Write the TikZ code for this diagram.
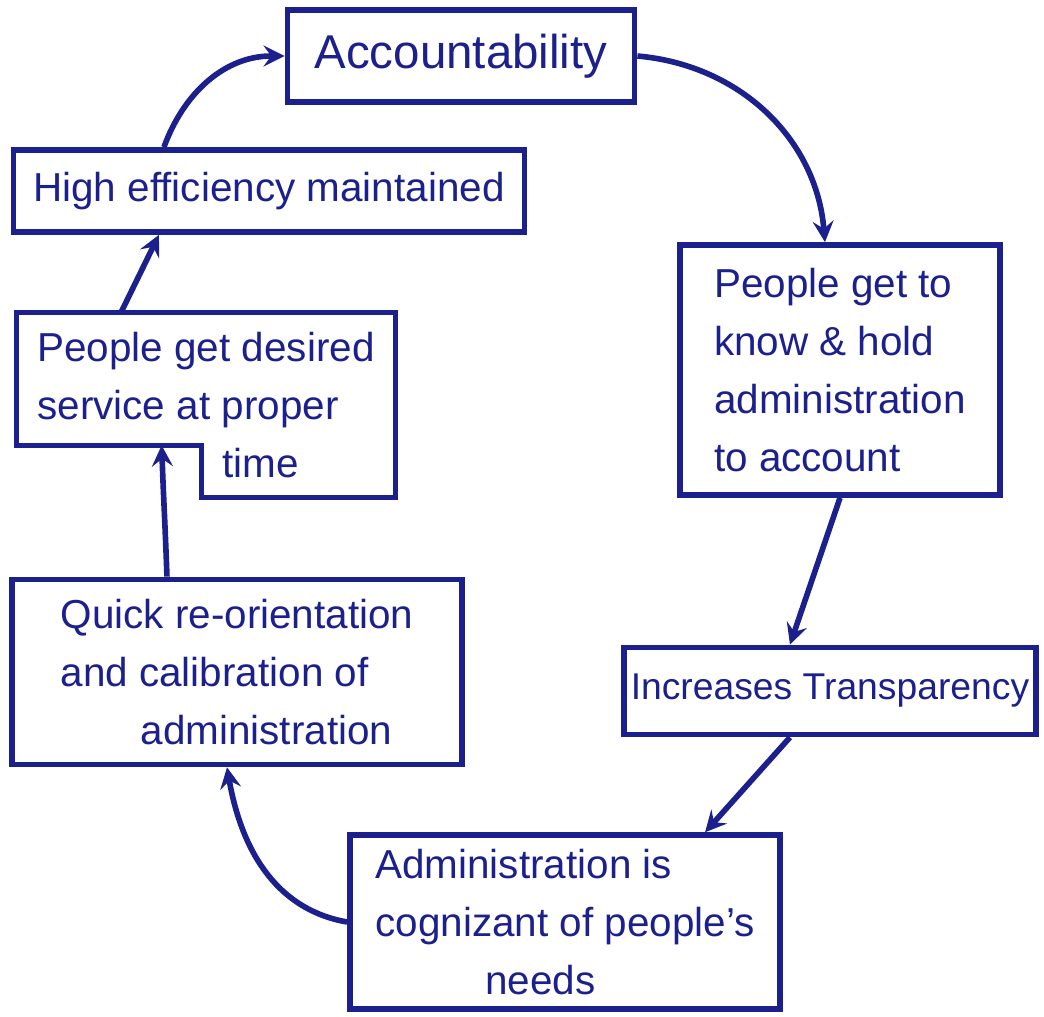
\documentclass[tikz,border=0pt]{standalone}
\usepackage{fontspec}
\setmainfont{Liberation Sans}
\definecolor{ink}{RGB}{28,32,140}
\tikzset{
  box/.style={draw=ink, line width=1.6pt, text=ink, align=left, inner sep=4pt,
    font=\fontsize{11.5}{16.5}\selectfont},
  edge/.style={draw=ink, line width=1.6pt},
  arr/.style={->, draw=ink, line width=1.6pt, >=stealth}
}
\begin{document}
\begin{tikzpicture}[x=0.01cm,y=-0.01cm]
\useasboundingbox (0,0) rectangle (1044,1017);
\node[box, minimum width=3.47cm, minimum height=0.92cm, font=\fontsize{13.5}{16}\selectfont] (acc) at (461,56) {Accountability};
\node[box, minimum width=5.11cm, minimum height=0.82cm] (high) at (269,191) {High efficiency maintained};
\node[box, draw=none, minimum width=3.73cm, minimum height=1.79cm] (desired) at (206,405) {People get desired\\ service at proper\\ \hspace*{1.85cm}time};
\node[box, minimum width=3.2cm, minimum height=2.5cm] (know) at (840,370) {People get to\\ know \& hold\\ administration\\ to account};
\node[box, minimum width=4.08cm, minimum height=0.87cm, inner sep=2pt, font=\fontsize{10.6}{14}\selectfont] (trans) at (830,691) {Increases Transparency};
\node[box, minimum width=4.3cm, minimum height=1.55cm] (admin) at (565,922) {Administration is\\ cognizant of people's\\ \hspace*{1.1cm}needs};
\node[box, minimum width=4.5cm, minimum height=1.85cm] (quick) at (237,672) {Quick re-orientation\\ and calibration of\\ \hspace*{0.8cm}administration};
% notched outline of the desired box
\draw[edge] (desired.north west) -- (desired.north east) -- (desired.south east)
  -- ([xshift=1.85cm]desired.south west) -- ([xshift=1.85cm,yshift=0.52cm]desired.south west)
  -- ([yshift=0.52cm]desired.south west) -- cycle;
\coordinate (gap) at ([xshift=1.45cm,yshift=0.52cm]desired.south west);
% cycle of arrows
\draw[arr] (acc.east) to[out=-5,in=95] ([xshift=-0.15cm]know.north);
\draw[arr] (know.south) -- ([xshift=-0.4cm]trans.north);
\draw[arr] ([xshift=-0.4cm]trans.south) -- ([xshift=1.4cm]admin.north);
\draw[arr] (admin.west) to[out=170,in=-80] ([xshift=-0.1cm]quick.south);
\draw[arr] ([xshift=-0.7cm]quick.north) to[out=92,in=-88] (gap);
\draw[arr] ([xshift=-0.85cm]desired.north) -- ([xshift=-1.1cm]high.south);
\draw[arr] ([xshift=-1.05cm]high.north) to[out=70,in=180] (acc.west);
\end{tikzpicture}
\end{document}
